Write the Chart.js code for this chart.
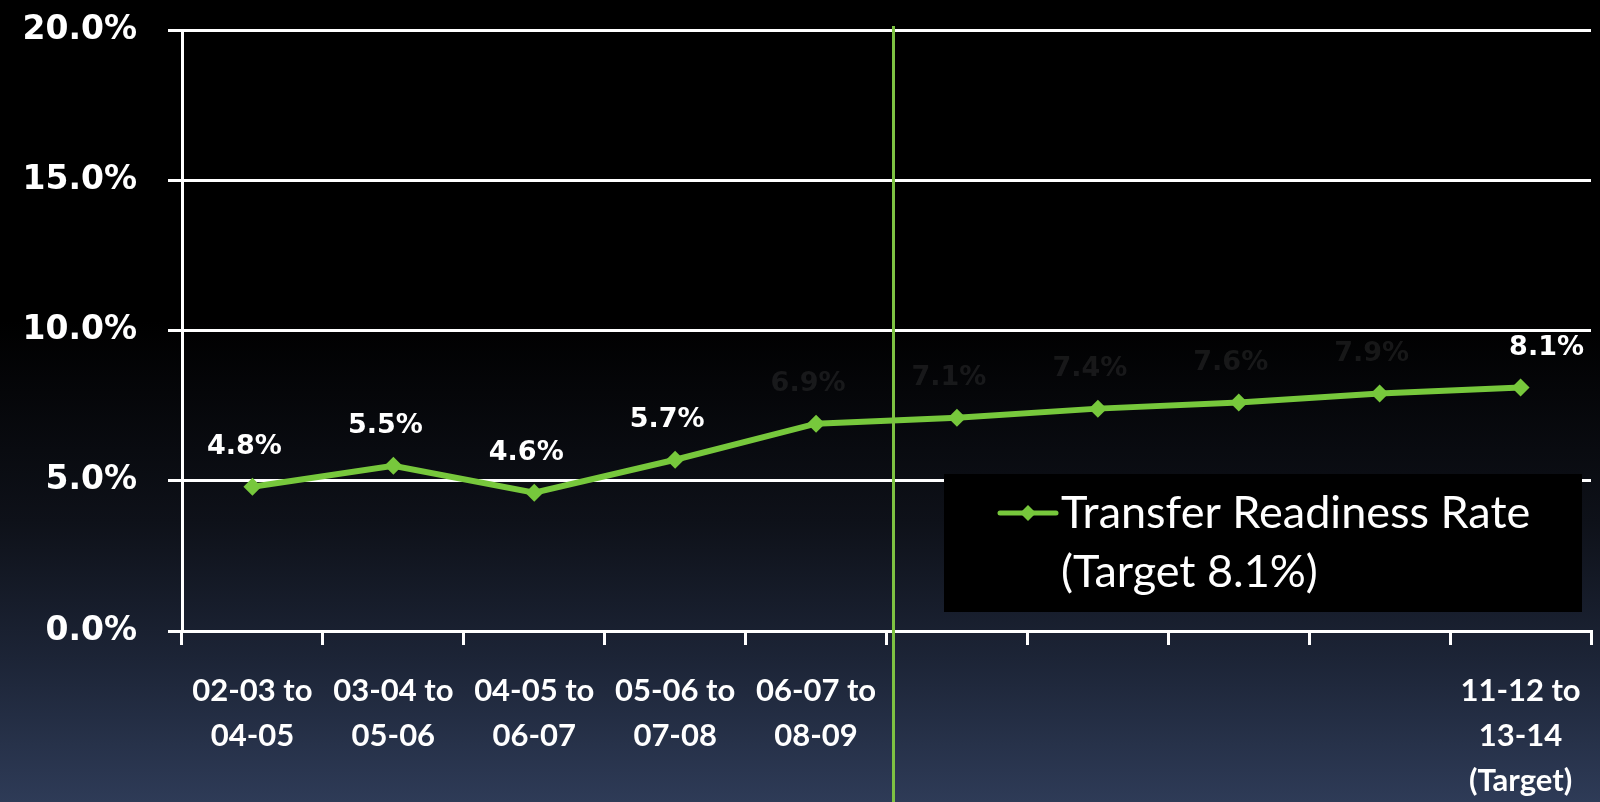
<!DOCTYPE html>
<html>
<head>
<meta charset="utf-8">
<script src="https://cdn.jsdelivr.net/npm/chart.js@4/dist/chart.umd.min.js"></script>
<style>
  html, body { margin:0; padding:0; }
  body { width:1600px; height:802px; overflow:hidden;
    background: linear-gradient(to bottom, #000 0%, #000 40%, #0e1119 65%, #1c2436 82%, #2e3b57 100%); }
  #wrap { position:absolute; left:0; top:0; width:1600px; height:802px; }
</style>
</head>
<body>
<div id="wrap"><canvas id="c" width="1600" height="802"></canvas></div>
<script>
// ---- data ----
const categories = [
  ["02-03 to", "04-05"],
  ["03-04 to", "05-06"],
  ["04-05 to", "06-07"],
  ["05-06 to", "07-08"],
  ["06-07 to", "08-09"],
  "",
  "",
  "",
  "",
  ["11-12 to", "13-14", "(Target)"]
];
const transferReadinessRate = [4.8, 5.5, 4.6, 5.7, 6.9, 7.1, 7.4, 7.6, 7.9, 8.1];
const pointLabels = ["4.8%", "5.5%", "4.6%", "5.7%", "6.9%", "7.1%", "7.4%", "7.6%", "7.9%", "8.1%"];
const yTicks = [0, 5, 10, 15, 20];
const seriesName = ["Transfer Readiness Rate", "(Target 8.1%)"];

// ---- style ----
const GREEN = '#77c83c';
const FONT = 'Lato';
const NUMFONT = 'DejaVu Sans';
const faintLabel = [false, false, false, false, true, true, true, true, true, false];

const labelPlugin = {
  id: 'labels',
  afterDatasetsDraw(chart) {
    const ctx = chart.ctx;
    const meta = chart.getDatasetMeta(0);
    ctx.save();
    ctx.font = 'bold 27px "' + NUMFONT + '"';
    ctx.textAlign = 'center';
    ctx.textBaseline = 'middle';
    meta.data.forEach((pt, i) => {
      const last = i === meta.data.length - 1;
      ctx.fillStyle = faintLabel[i] ? 'rgba(80,80,80,0.28)' : '#ffffff';
      ctx.fillText(pointLabels[i], pt.x + (last ? 26 : -8), pt.y - 40);
    });
    ctx.restore();
  }
};

const divider = {
  id: 'divider',
  afterDatasetsDraw(chart) {
    const xs = chart.scales.x;
    const x = (xs.getPixelForValue(4) + xs.getPixelForValue(5)) / 2 + 7;
    const ctx = chart.ctx;
    ctx.save();
    ctx.strokeStyle = '#7dc242';
    ctx.lineWidth = 3;
    ctx.beginPath();
    ctx.moveTo(x, chart.chartArea.top - 4);
    ctx.lineTo(x, chart.height);
    ctx.stroke();
    ctx.restore();
  }
};

const legendBox = {
  id: 'legendBox',
  afterDatasetsDraw(chart) {
    const ctx = chart.ctx;
    const bx = 944, by = 474, bw = 638, bh = 138;
    ctx.save();
    ctx.fillStyle = '#000';
    ctx.fillRect(bx, by, bw, bh);
    const ly = by + 39;
    ctx.strokeStyle = GREEN;
    ctx.lineWidth = 5;
    ctx.lineCap = 'round';
    ctx.beginPath();
    ctx.moveTo(bx + 56, ly);
    ctx.lineTo(bx + 112, ly);
    ctx.stroke();
    ctx.fillStyle = GREEN;
    ctx.beginPath();
    const cx = bx + 84, r = 8;
    ctx.moveTo(cx, ly - r); ctx.lineTo(cx + r, ly); ctx.lineTo(cx, ly + r); ctx.lineTo(cx - r, ly);
    ctx.closePath(); ctx.fill();
    ctx.fillStyle = '#fff';
    ctx.font = '45px ' + FONT;
    ctx.textAlign = 'left';
    ctx.textBaseline = 'middle';
    ctx.fillText(seriesName[0], bx + 117, ly);
    ctx.fillText(seriesName[1], bx + 117, ly + 59);
    ctx.restore();
  }
};

new Chart(document.getElementById('c'), {
  type: 'line',
  data: {
    labels: categories,
    datasets: [{
      label: seriesName.join(' '),
      data: transferReadinessRate,
      borderColor: GREEN,
      backgroundColor: GREEN,
      borderWidth: 6,
      pointStyle: 'rectRot',
      pointRadius: 9,
      pointBorderWidth: 0,
      tension: 0
    }, {
      label: 'highlight',
      data: transferReadinessRate,
      borderColor: 'rgba(200,240,170,0.75)',
      borderWidth: 2,
      borderDash: [9, 11],
      pointRadius: 0,
      tension: 0
    }]
  },
  options: {
    responsive: false,
    animation: false,
    layout: { padding: { top: 30, right: -10, left: 0, bottom: 0 } },
    plugins: { legend: { display: false }, tooltip: { enabled: false } },
    scales: {
      x: {
        offset: true,
        grid: { display: true, offset: true, drawOnChartArea: false, drawTicks: true, tickLength: 14, color: '#fff', lineWidth: 3 },
        border: { display: true, color: '#fff', width: 3 },
        ticks: { color: '#fff', font: { family: FONT, weight: 'bold', size: 31, lineHeight: 1.45 }, padding: 24, maxRotation: 0, autoSkip: false },
        afterFit(s) { s.height = 171; s.paddingLeft = 0; s.paddingRight = 0; }
      },
      y: {
        min: 0, max: 20,
        afterBuildTicks(s) { s.ticks = yTicks.map(v => ({ value: v })); },
        grid: { color: '#fff', lineWidth: 3, tickLength: 14, drawTicks: true },
        border: { display: true, color: '#fff', width: 3 },
        ticks: { color: '#fff', padding: 31, font: { family: NUMFONT, weight: 'bold', size: 33 },
          callback: v => v.toFixed(1) + '%' },
        afterFit(s) { s.width = 182; s.paddingTop = 0; s.paddingBottom = 0; }
      }
    }
  },
  plugins: [divider, labelPlugin, legendBox]
});
</script>
</body>
</html>
